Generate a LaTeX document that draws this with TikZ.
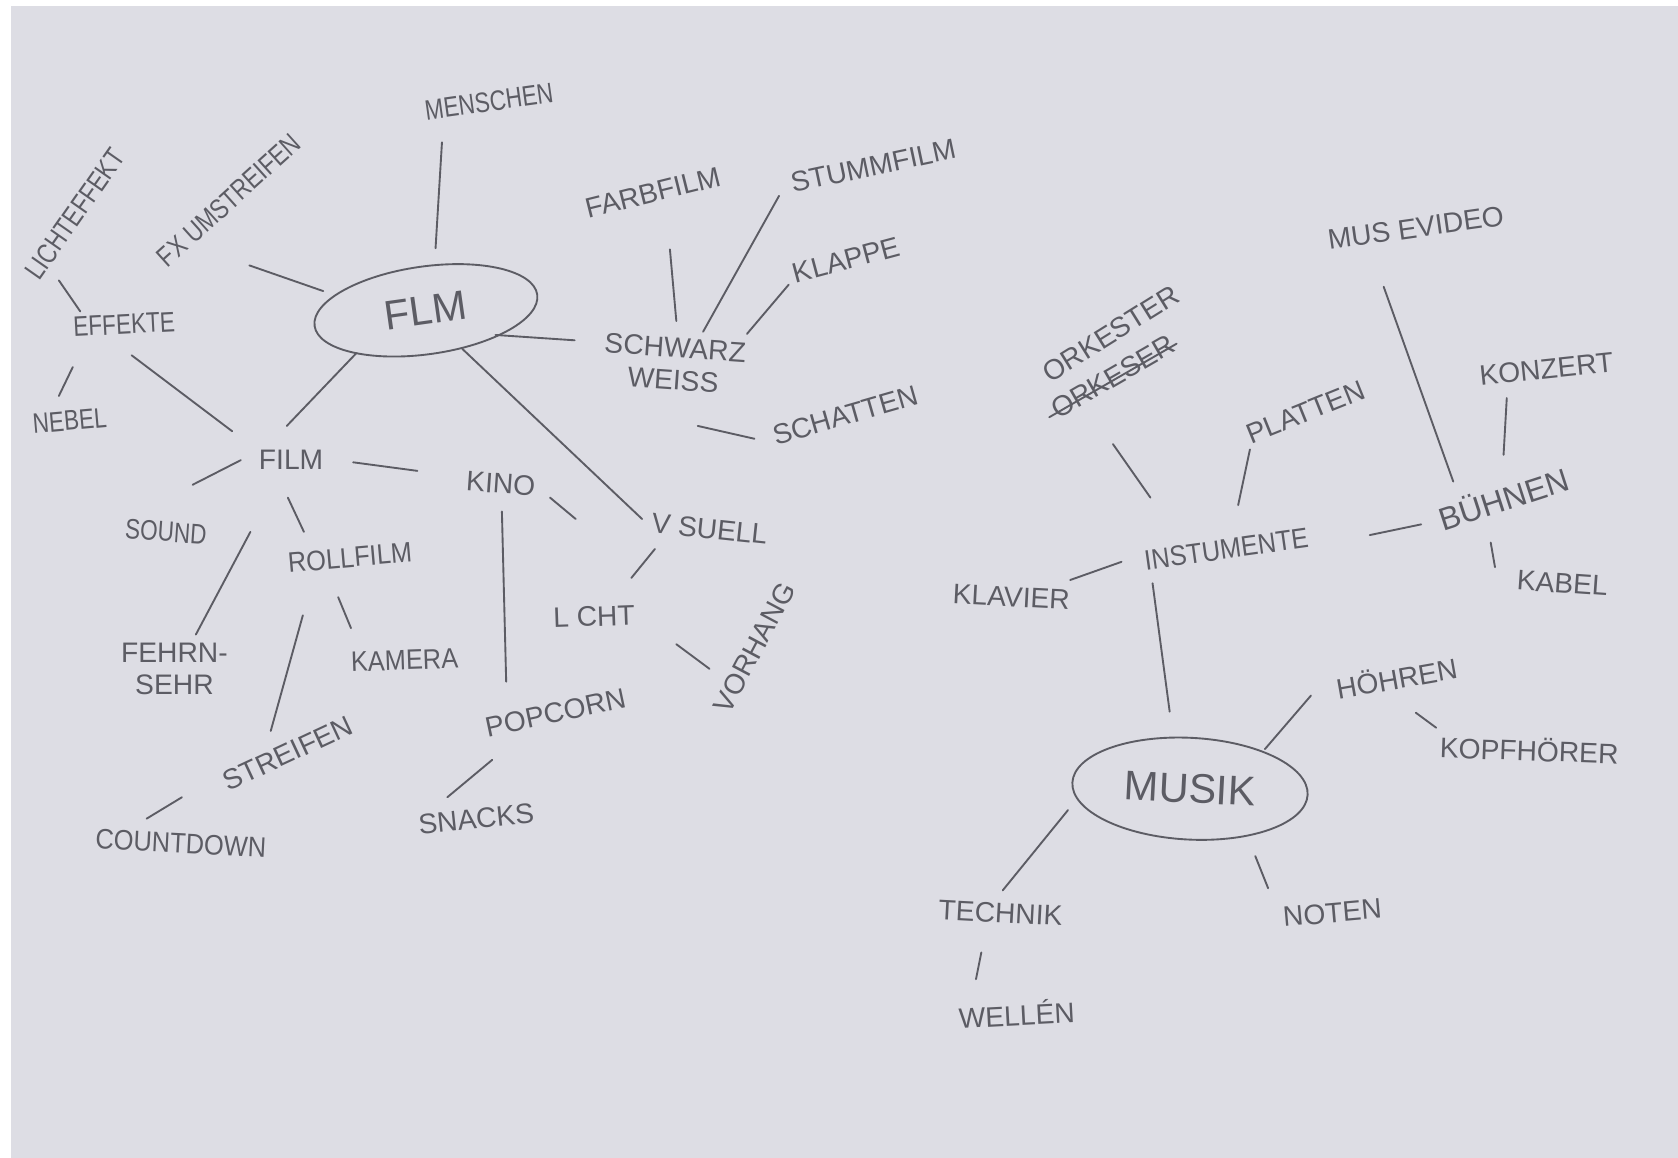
\documentclass[tikz,border=0pt]{standalone}
\usepackage{fontspec}
\setmainfont{Liberation Sans}
\newfontfamily\narrowfont[FakeStretch=0.8]{Liberation Sans}
\newfontfamily\semifont[FakeStretch=0.9]{Liberation Sans}
\usepackage{tikz}
\usetikzlibrary{shapes.geometric}
\definecolor{paper}{RGB}{221,221,228}
\definecolor{pencil}{RGB}{92,92,100}
\tikzstyle{word} = [text=pencil, font=\fontsize{7.5}{8.5}\selectfont, inner sep=1pt, align=center]
\tikzstyle{narrow} = [font=\narrowfont\fontsize{7.5}{8.5}\selectfont]
\tikzstyle{semi} = [font=\semifont\fontsize{7.5}{8.5}\selectfont]
\tikzstyle{topic} = [ellipse, draw=pencil, line width=0.5pt, text=pencil, font=\fontsize{11}{12}\selectfont]
\tikzstyle{link} = [draw=pencil, line width=0.5pt, line cap=round]

\begin{document}
\begin{tikzpicture}[x=0.01cm, y=-0.01cm]

\fill[white] (0,0) rectangle (1568,1082);
\fill[paper] (10,6) rectangle (1568,1082);
\useasboundingbox (0,0) rectangle (1568,1082);

\node (flm) [topic, minimum width=2.1cm, minimum height=0.82cm, rotate=8] at (398,290) {FLM};
\node (menschen) [word, narrow, rotate=8] at (457,95) {MENSCHEN};
\node (lichteff) [word, narrow, rotate=55] at (70,200) {LICHTEFFEKT};
\node (fx) [word, narrow, rotate=42] at (214,187) {FX UMSTREIFEN};
\node (effekte) [word, narrow, rotate=3] at (116,303) {EFFEKTE};
\node (nebel) [word, narrow, rotate=5] at (65,393) {NEBEL};
\node (schwarz) [word, rotate=-4] at (630,340) {SCHWARZ\\WEISS};
\node (farbfilm) [word, rotate=14] at (610,180) {FARBFILM};
\node (stummfilm) [word, rotate=12] at (816,155) {STUMMFILM};
\node (klappe) [word, rotate=15] at (791,243) {KLAPPE};
\node (schatten) [word, rotate=16] at (790,388) {SCHATTEN};
\node (filmsub) [word] at (272,430) {FILM};
\node (sound) [word, narrow, rotate=-4] at (155,497) {SOUND};
\node (rollfilm) [word, semi, rotate=5] at (327,521) {ROLLFILM};
\node (fernseh) [word] at (163,625) {FEHRN-\\SEHR};
\node (kamera) [word, semi, rotate=2] at (378,617) {KAMERA};
\node (streifen) [word, rotate=25] at (269,704) {STREIFEN};
\node (countdown) [word, semi, rotate=-3] at (169,788) {COUNTDOWN};
\node (kino) [word, rotate=-4] at (468,452) {KINO};
\node (popcorn) [word, rotate=12] at (519,666) {POPCORN};
\node (snacks) [word, rotate=6] at (445,765) {SNACKS};
\node (licht) [word, rotate=2] at (555,576) {L CHT};
\node (visuell) [word, rotate=-6] at (663,494) {V SUELL};
\node (vorhang) [word, rotate=62] at (705,605) {VORHANG};

\node (musik) [topic, minimum width=2.2cm, minimum height=0.95cm, rotate=-3] at (1112,737) {MUSIK};
\node (musvideo) [word, rotate=8] at (1323,213) {MUS EVIDEO};
\node (orkester) [word, rotate=32] at (1038,312) {ORKESTER};
\node (orkeser) [word, rotate=30] at (1040,352) {ORKESER};
\node (platten) [word, rotate=22] at (1220,385) {PLATTEN};
\node (konzert) [word, rotate=6] at (1445,345) {KONZERT};
\node (buehnen) [word, rotate=18, font=\fontsize{8.5}{9.5}\selectfont] at (1405,465) {BÜHNEN};
\node (kabel) [word, rotate=-4] at (1460,545) {KABEL};
\node (instr) [word, semi, rotate=8] at (1146,513) {INSTUMENTE};
\node (klavier) [word, rotate=-3] at (945,558) {KLAVIER};
\node (hoehren) [word, rotate=10] at (1305,633) {HÖHREN};
\node (kopfh) [word, rotate=-2] at (1429,700) {KOPFHÖRER};
\node (technik) [word, rotate=-3] at (935,853) {TECHNIK};
\node (wellen) [word, rotate=3] at (950,947) {WELLÉN};
\node (noten) [word, rotate=5] at (1245,853) {NOTEN};

\draw [link] ([yshift=-1]orkeser.west) -- ([yshift=-1]orkeser.east);

\draw [link] ([shift={(-44,38)}]menschen.center) -- ([shift={(9,-58)}]flm.center);
\draw [link] ([shift={(19,61)}]fx.center) -- ([shift={(-96,-18)}]flm.center);
\draw [link] ([shift={(-15,62)}]lichteff.center) -- ([shift={(-41,-12)}]effekte.center);
\draw [link] ([shift={(-48,40)}]effekte.center) -- ([shift={(-10,-23)}]nebel.center);
\draw [link] ([shift={(7,29)}]effekte.center) -- ([shift={(-55,-27)}]filmsub.center);
\draw [link] ([shift={(-65,40)}]flm.center) -- ([shift={(-4,-32)}]filmsub.center);
\draw [link] ([shift={(65,23)}]flm.center) -- ([shift={(-93,-22)}]schwarz.center);
\draw [link] ([shift={(34,36)}]flm.center) -- ([shift={(-63,-9)}]visuell.center);
\draw [link] ([shift={(16,53)}]farbfilm.center) -- ([shift={(2,-40)}]schwarz.center);
\draw [link] ([shift={(-88,28)}]stummfilm.center) -- ([shift={(27,-30)}]schwarz.center);
\draw [link] ([shift={(-54,23)}]klappe.center) -- ([shift={(68,-28)}]schwarz.center);
\draw [link] ([shift={(22,58)}]schwarz.center) -- ([shift={(-85,22)}]schatten.center);
\draw [link] ([shift={(-47,0)}]filmsub.center) -- ([shift={(25,-44)}]sound.center);
\draw [link] ([shift={(58,2)}]filmsub.center) -- ([shift={(-78,-12)}]kino.center);
\draw [link] ([shift={(-3,35)}]filmsub.center) -- ([shift={(-43,-24)}]rollfilm.center);
\draw [link] ([shift={(-38,67)}]filmsub.center) -- ([shift={(20,-32)}]fernseh.center);
\draw [link] ([shift={(-11,37)}]rollfilm.center) -- ([shift={(-50,-30)}]kamera.center);
\draw [link] ([shift={(-44,54)}]rollfilm.center) -- ([shift={(-16,-21)}]streifen.center);
\draw [link] ([shift={(-99,41)}]streifen.center) -- ([shift={(-32,-23)}]countdown.center);
\draw [link] ([shift={(1,26)}]kino.center) -- ([shift={(-46,-29)}]popcorn.center);
\draw [link] ([shift={(46,13)}]kino.center) -- ([shift={(-17,-91)}]licht.center);
\draw [link] ([shift={(-51,19)}]visuell.center) -- ([shift={(35,-36)}]licht.center);
\draw [link] ([shift={(77,26)}]licht.center) -- ([shift={(-42,20)}]vorhang.center);
\draw [link] ([shift={(-59,44)}]popcorn.center) -- ([shift={(-27,-20)}]snacks.center);

\draw [link] ([shift={(0,63)}]orkeser.center) -- ([shift={(-71,-48)}]instr.center);
\draw [link] ([shift={(-52,35)}]platten.center) -- ([shift={(11,-41)}]instr.center);
\draw [link] ([shift={(-30,55)}]musvideo.center) -- ([shift={(-47,-15)}]buehnen.center);
\draw [link] ([shift={(-37,27)}]konzert.center) -- ([shift={(0,-40)}]buehnen.center);
\draw [link] ([shift={(134,-13)}]instr.center) -- ([shift={(-77,25)}]buehnen.center);
\draw [link] ([shift={(-12,42)}]buehnen.center) -- ([shift={(-63,-15)}]kabel.center);
\draw [link] ([shift={(55,-16)}]klavier.center) -- ([shift={(-98,12)}]instr.center);
\draw [link] ([shift={(-69,32)}]instr.center) -- ([shift={(-19,-72)}]musik.center);
\draw [link] ([shift={(70,-37)}]musik.center) -- ([shift={(-80,17)}]hoehren.center);
\draw [link] ([shift={(18,33)}]hoehren.center) -- ([shift={(-87,-20)}]kopfh.center);
\draw [link] ([shift={(-114,20)}]musik.center) -- ([shift={(2,-21)}]technik.center);
\draw [link] ([shift={(61,63)}]musik.center) -- ([shift={(-60,-23)}]noten.center);
\draw [link] ([shift={(-18,37)}]technik.center) -- ([shift={(-38,-32)}]wellen.center);

\end{tikzpicture}
\end{document}
